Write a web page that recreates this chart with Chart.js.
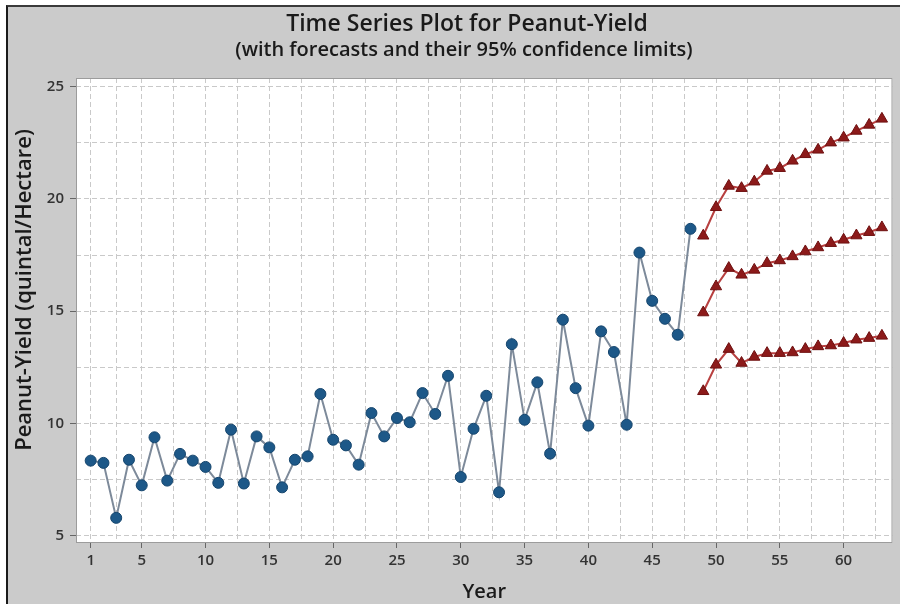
<!DOCTYPE html>
<html>
<head>
<meta charset="utf-8">
<script src="https://cdn.jsdelivr.net/npm/chart.js@4"></script>
<style>
  html, body { margin:0; padding:0; background:#ffffff; }
  #wrap { position:relative; width:900px; height:604px; overflow:hidden; }
  #frame { position:absolute; left:6px; top:5px; right:0; bottom:0; background:#cbcbcb;
           border-left:2px solid #1a1a1a; border-top:2px solid #3a3a3a; }
  #c { position:absolute; left:0; top:0; }
</style>
</head>
<body>
<div id="wrap">
  <div id="frame"></div>
  <canvas id="c" width="900" height="604"></canvas>
</div>
<script>
// ---- data ----
const observedYield = [8.34, 8.24, 5.79, 8.38, 7.24, 9.38, 7.45, 8.64, 8.34, 8.06,
  7.35, 9.72, 7.32, 9.42, 8.93, 7.15, 8.38, 8.53, 11.31, 9.27,
  9.02, 8.16, 10.46, 9.42, 10.24, 10.05, 11.35, 10.42, 12.12, 7.61,
  9.76, 11.23, 6.93, 13.53, 10.16, 11.83, 8.65, 14.62, 11.57, 9.90,
  14.10, 13.18, 9.94, 17.61, 15.46, 14.66, 13.95, 18.67];
const forecastYears = [49, 50, 51, 52, 53, 54, 55, 56, 57, 58, 59, 60, 61, 62, 63];
const upperLimit = [18.36, 19.63, 20.58, 20.48, 20.77, 21.25, 21.37, 21.70, 21.99, 22.19, 22.51, 22.73, 23.03, 23.30, 23.57];
const forecast   = [14.94, 16.10, 16.92, 16.62, 16.84, 17.14, 17.26, 17.44, 17.66, 17.84, 18.03, 18.18, 18.37, 18.52, 18.73];
const lowerLimit = [11.43, 12.61, 13.31, 12.69, 12.96, 13.13, 13.13, 13.16, 13.31, 13.43, 13.47, 13.58, 13.73, 13.80, 13.90];

const xTickLabels = [1, 5, 10, 15, 20, 25, 30, 35, 40, 45, 50, 55, 60];
const xGridValues = [1, 3, 5, 7.5, 10, 12.5, 15, 17.5, 20, 22.5, 25, 27.5, 30, 32.5, 35, 37.5, 40, 42.5, 45, 47.5, 50, 52.5, 55, 57.5, 60, 62.5];
const yTickLabels = [5, 10, 15, 20, 25];
const yGridValues = [5, 7.5, 10, 12.5, 15, 17.5, 20, 22.5, 25];

const chartTitle = 'Time Series Plot for Peanut-Yield';
const chartSubtitle = '(with forecasts and their 95% confidence limits)';
const yAxisTitle = 'Peanut-Yield (quintal/Hectare)';

const obsPoints = observedYield.map((v, i) => ({x: i + 1, y: v}));
const toPts = arr => arr.map((v, i) => ({x: forecastYears[i], y: v}));

const FONT = "'Open Sans', 'Noto Sans', sans-serif";

const decor = {
  id: 'decor',
  beforeDraw(chart) {
    const {ctx, chartArea: a} = chart;
    ctx.save();
    ctx.fillStyle = '#ffffff';
    ctx.fillRect(a.left, a.top, a.right - a.left, a.bottom - a.top);
    ctx.restore();
  },
  afterDatasetsDraw(chart) {
    const {ctx, chartArea: a} = chart;
    ctx.save();
    ctx.strokeStyle = '#9c9c9c';
    ctx.lineWidth = 1;
    ctx.strokeRect(a.left + 0.5, a.top + 0.5, a.right - a.left - 1, a.bottom - a.top - 1);
    ctx.restore();
  },
  afterDraw(chart) {
    const ctx = chart.ctx;
    ctx.save();
    ctx.fillStyle = '#1a1a1a';
    ctx.textAlign = 'center';
    ctx.textBaseline = 'middle';
    ctx.font = "600 23px " + FONT;
    ctx.fillText(chartTitle, 467, 24);
    ctx.font = "600 20px " + FONT;
    ctx.fillText(chartSubtitle, 464, 50);
    ctx.translate(25, 290);
    ctx.rotate(-Math.PI / 2);
    ctx.font = "600 22px " + FONT;
    ctx.fillText(yAxisTitle, 0, 0);
    ctx.restore();
  }
};

const redLine = '#b84040';
const redFill = '#8c1a1a';

new Chart(document.getElementById('c'), {
  type: 'line',
  data: {
    datasets: [
      {
        label: 'Peanut-Yield',
        data: obsPoints,
        borderColor: '#7d8a9a',
        borderWidth: 2,
        pointRadius: 5.5,
        pointBackgroundColor: '#1d5888',
        pointBorderColor: '#16466e',
        pointBorderWidth: 1,
        tension: 0
      },
      {
        label: 'Upper',
        data: toPts(upperLimit),
        borderColor: redLine, borderWidth: 2,
        pointStyle: 'triangle', pointRadius: 6.5,
        pointBackgroundColor: redFill, pointBorderColor: '#6e1010', pointBorderWidth: 1
      },
      {
        label: 'Forecast',
        data: toPts(forecast),
        borderColor: redLine, borderWidth: 2,
        pointStyle: 'triangle', pointRadius: 6.5,
        pointBackgroundColor: redFill, pointBorderColor: '#6e1010', pointBorderWidth: 1
      },
      {
        label: 'Lower',
        data: toPts(lowerLimit),
        borderColor: redLine, borderWidth: 2,
        pointStyle: 'triangle', pointRadius: 6.5,
        pointBackgroundColor: redFill, pointBorderColor: '#6e1010', pointBorderWidth: 1
      }
    ]
  },
  options: {
    responsive: false,
    animation: false,
    layout: { padding: {left: 0, right: 0, top: 78, bottom: 0} },
    plugins: {
      legend: { display: false },
      tooltip: { enabled: false },
      title: { display: false },
      subtitle: { display: false }
    },
    scales: {
      x: {
        type: 'linear',
        min: -0.15,
        max: 63.83,
        afterBuildTicks: s => { s.ticks = xGridValues.map(v => ({value: v})); },
        afterFit: s => { s.height = 61; },
        ticks: {
          autoSkip: false, maxRotation: 0, minRotation: 0,
          padding: 4,
          color: '#333333',
          font: { family: FONT, size: 15, weight: '600' },
          callback: v => xTickLabels.includes(v) ? String(v) : ''
        },
        grid: {
          color: '#c9c9c9',
          lineWidth: 1,
          tickLength: 5,
          tickColor: c => (c.tick && xTickLabels.includes(c.tick.value)) ? '#666666' : 'rgba(0,0,0,0)'
        },
        border: { display: false, dash: [5, 3] },
        title: {
          display: true,
          text: 'Year',
          color: '#1a1a1a',
          font: { family: FONT, size: 20, weight: '600', lineHeight: 1.15 },
          padding: { top: 0, bottom: 0 }
        }
      },
      y: {
        type: 'linear',
        min: 4.67,
        max: 25.39,
        afterBuildTicks: s => { s.ticks = yGridValues.map(v => ({value: v})); },
        afterFit: s => { s.width = 76; },
        ticks: {
          autoSkip: false,
          padding: 6,
          color: '#333333',
          font: { family: FONT, size: 15, weight: '600' },
          callback: v => yTickLabels.includes(v) ? String(v) : ''
        },
        grid: {
          color: '#c9c9c9',
          lineWidth: 1,
          tickLength: 6,
          tickColor: c => (c.tick && yTickLabels.includes(c.tick.value)) ? '#666666' : 'rgba(0,0,0,0)'
        },
        border: { display: false, dash: [5, 3] },
        title: { display: false }
      }
    }
  },
  plugins: [decor]
});
</script>
</body>
</html>
